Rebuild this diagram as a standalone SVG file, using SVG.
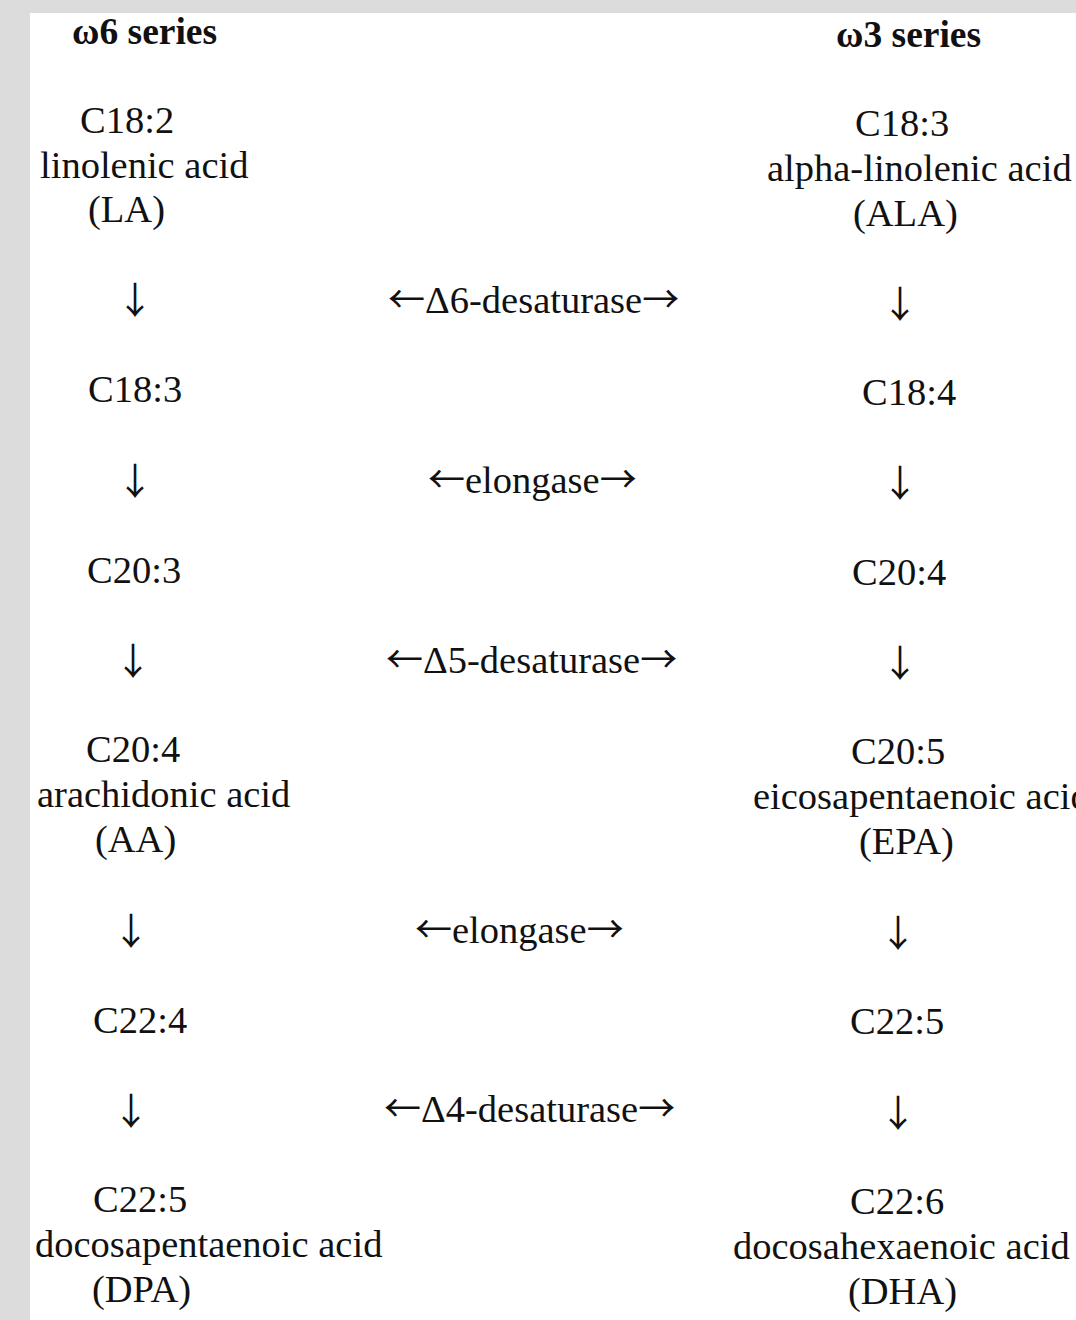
<svg xmlns="http://www.w3.org/2000/svg" width="1076" height="1320" viewBox="0 0 1076 1320">
<style>
text{font-family:"Liberation Serif","Times New Roman",serif;font-size:38.5px;fill:#111;}
.h{font-weight:bold;font-size:37.5px;}
.a{font-family:"Noto Sans CJK SC","Liberation Serif",sans-serif;font-size:37px;font-weight:400;}
</style>
<rect x="0" y="0" width="1076" height="1320" fill="#ffffff"/>
<rect x="0" y="0" width="1076" height="13" fill="#dcdcdc"/>
<rect x="0" y="0" width="30" height="1320" fill="#dcdcdc"/>
<g id="header-w6"><text class="h" x="72" y="44">ω6 series</text></g>
<g id="header-w3"><text class="h" x="836" y="47">ω3 series</text></g>
<g id="la"><text x="80" y="133">C18:2</text><text x="40" y="178">linolenic acid</text><text x="88" y="222">(LA)</text></g>
<g id="c183-w6"><text x="88" y="402">C18:3</text></g>
<g id="c203"><text x="87" y="583">C20:3</text></g>
<g id="aa"><text x="86" y="762">C20:4</text><text x="37" y="807">arachidonic acid</text><text x="95" y="852">(AA)</text></g>
<g id="c224"><text x="93" y="1033">C22:4</text></g>
<g id="dpa"><text x="93" y="1212">C22:5</text><text x="35" y="1257">docosapentaenoic acid</text><text x="92" y="1302">(DPA)</text></g>
<g id="ala"><text x="855" y="136">C18:3</text><text x="767" y="181">alpha-linolenic acid</text><text x="853" y="226">(ALA)</text></g>
<g id="c184"><text x="862" y="405">C18:4</text></g>
<g id="c204-w3"><text x="852" y="585">C20:4</text></g>
<g id="epa"><text x="851" y="764">C20:5</text><text x="753" y="809">eicosapentaenoic acid</text><text x="859" y="854">(EPA)</text></g>
<g id="c225-w3"><text x="850" y="1034">C22:5</text></g>
<g id="dha"><text x="850" y="1214">C22:6</text><text x="733" y="1259">docosahexaenoic acid</text><text x="848" y="1304">(DHA)</text></g>
<g id="connectors">
<text class="a" x="135" y="314" text-anchor="middle">↓</text>
<text class="a" x="135" y="495" text-anchor="middle">↓</text>
<text class="a" x="133" y="675" text-anchor="middle">↓</text>
<text class="a" x="131" y="945" text-anchor="middle">↓</text>
<text class="a" x="131" y="1125" text-anchor="middle">↓</text>
<text class="a" x="900" y="318" text-anchor="middle">↓</text>
<text class="a" x="900" y="497" text-anchor="middle">↓</text>
<text class="a" x="900" y="677" text-anchor="middle">↓</text>
<text class="a" x="898" y="947" text-anchor="middle">↓</text>
<text class="a" x="898" y="1127" text-anchor="middle">↓</text>
<text x="388" y="313"><tspan class="a">←</tspan>Δ6-desaturase<tspan class="a">→</tspan></text>
<text x="428" y="493"><tspan class="a">←</tspan>elongase<tspan class="a">→</tspan></text>
<text x="386" y="673"><tspan class="a">←</tspan>Δ5-desaturase<tspan class="a">→</tspan></text>
<text x="415" y="943"><tspan class="a">←</tspan>elongase<tspan class="a">→</tspan></text>
<text x="384" y="1122"><tspan class="a">←</tspan>Δ4-desaturase<tspan class="a">→</tspan></text>
</g>
</svg>
